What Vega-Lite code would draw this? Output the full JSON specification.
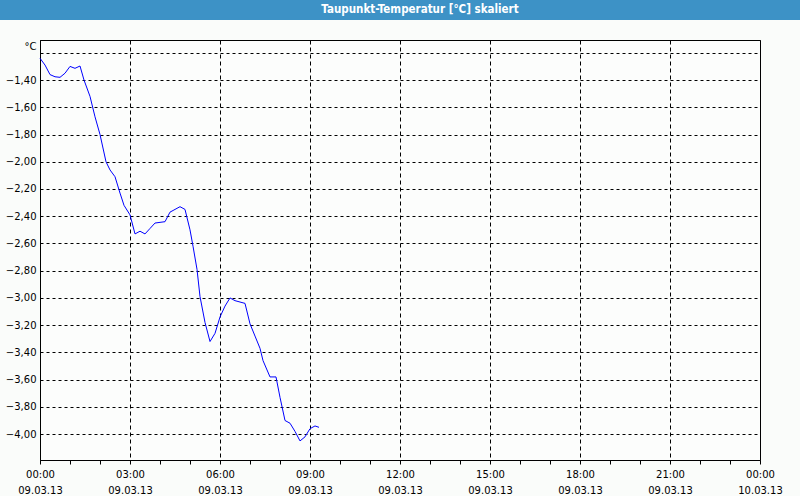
{
  "$schema": "https://vega.github.io/schema/vega-lite/v6.json",
  "background": "#FAFCFA",
  "padding": 0,
  "spacing": 20,
  "bounds": "flush",
  "center": true,
  "config": {
    "view": {"stroke": "#000000", "strokeWidth": 1, "fill": "#FCFDFC"},
    "font": "DejaVu Sans"
  },
  "vconcat": [
    {
      "width": 800,
      "height": 20,
      "view": {"stroke": null, "fill": "#3D92C6"},
      "data": {"values": [{"titel": "Taupunkt-Temperatur [°C] skaliert"}]},
      "mark": {"type": "text", "color": "#FFFFFF", "font": "DejaVu Sans Condensed", "fontWeight": "bold", "fontSize": 11.5, "baseline": "middle", "dx": 20},
      "encoding": {"text": {"field": "titel", "type": "nominal"}}
    },
    {
      "width": 720,
      "height": 420,
      "data": {
        "values": [
          {"zeit": "2013-03-09T00:00:00", "taupunkt": -1.24},
          {"zeit": "2013-03-09T00:10:00", "taupunkt": -1.29},
          {"zeit": "2013-03-09T00:20:00", "taupunkt": -1.36},
          {"zeit": "2013-03-09T00:30:00", "taupunkt": -1.376},
          {"zeit": "2013-03-09T00:40:00", "taupunkt": -1.38},
          {"zeit": "2013-03-09T00:50:00", "taupunkt": -1.35},
          {"zeit": "2013-03-09T01:00:00", "taupunkt": -1.30},
          {"zeit": "2013-03-09T01:10:00", "taupunkt": -1.314},
          {"zeit": "2013-03-09T01:20:00", "taupunkt": -1.297},
          {"zeit": "2013-03-09T01:28:00", "taupunkt": -1.40},
          {"zeit": "2013-03-09T01:40:00", "taupunkt": -1.52},
          {"zeit": "2013-03-09T01:50:00", "taupunkt": -1.67},
          {"zeit": "2013-03-09T02:00:00", "taupunkt": -1.80},
          {"zeit": "2013-03-09T02:12:00", "taupunkt": -2.00},
          {"zeit": "2013-03-09T02:20:00", "taupunkt": -2.06},
          {"zeit": "2013-03-09T02:30:00", "taupunkt": -2.11},
          {"zeit": "2013-03-09T02:40:00", "taupunkt": -2.23},
          {"zeit": "2013-03-09T02:48:00", "taupunkt": -2.32},
          {"zeit": "2013-03-09T03:00:00", "taupunkt": -2.39},
          {"zeit": "2013-03-09T03:10:00", "taupunkt": -2.53},
          {"zeit": "2013-03-09T03:20:00", "taupunkt": -2.51},
          {"zeit": "2013-03-09T03:30:00", "taupunkt": -2.53},
          {"zeit": "2013-03-09T03:40:00", "taupunkt": -2.49},
          {"zeit": "2013-03-09T03:50:00", "taupunkt": -2.45},
          {"zeit": "2013-03-09T04:10:00", "taupunkt": -2.44},
          {"zeit": "2013-03-09T04:20:00", "taupunkt": -2.37},
          {"zeit": "2013-03-09T04:30:00", "taupunkt": -2.35},
          {"zeit": "2013-03-09T04:40:00", "taupunkt": -2.33},
          {"zeit": "2013-03-09T04:50:00", "taupunkt": -2.35},
          {"zeit": "2013-03-09T05:00:00", "taupunkt": -2.50},
          {"zeit": "2013-03-09T05:06:00", "taupunkt": -2.62},
          {"zeit": "2013-03-09T05:14:00", "taupunkt": -2.79},
          {"zeit": "2013-03-09T05:20:00", "taupunkt": -2.99},
          {"zeit": "2013-03-09T05:30:00", "taupunkt": -3.18},
          {"zeit": "2013-03-09T05:40:00", "taupunkt": -3.32},
          {"zeit": "2013-03-09T05:50:00", "taupunkt": -3.26},
          {"zeit": "2013-03-09T06:00:00", "taupunkt": -3.14},
          {"zeit": "2013-03-09T06:10:00", "taupunkt": -3.06},
          {"zeit": "2013-03-09T06:20:00", "taupunkt": -3.00},
          {"zeit": "2013-03-09T06:30:00", "taupunkt": -3.02},
          {"zeit": "2013-03-09T06:50:00", "taupunkt": -3.04},
          {"zeit": "2013-03-09T07:00:00", "taupunkt": -3.19},
          {"zeit": "2013-03-09T07:10:00", "taupunkt": -3.28},
          {"zeit": "2013-03-09T07:20:00", "taupunkt": -3.37},
          {"zeit": "2013-03-09T07:26:00", "taupunkt": -3.46},
          {"zeit": "2013-03-09T07:40:00", "taupunkt": -3.58},
          {"zeit": "2013-03-09T07:52:00", "taupunkt": -3.58},
          {"zeit": "2013-03-09T08:00:00", "taupunkt": -3.73},
          {"zeit": "2013-03-09T08:10:00", "taupunkt": -3.90},
          {"zeit": "2013-03-09T08:20:00", "taupunkt": -3.92},
          {"zeit": "2013-03-09T08:30:00", "taupunkt": -3.98},
          {"zeit": "2013-03-09T08:40:00", "taupunkt": -4.05},
          {"zeit": "2013-03-09T08:50:00", "taupunkt": -4.02},
          {"zeit": "2013-03-09T09:00:00", "taupunkt": -3.96},
          {"zeit": "2013-03-09T09:10:00", "taupunkt": -3.94},
          {"zeit": "2013-03-09T09:18:00", "taupunkt": -3.95}
        ]
      },
      "mark": {"type": "line", "color": "#0000FF", "strokeWidth": 1},
      "encoding": {
        "x": {
          "field": "zeit",
          "type": "temporal",
          "scale": {
            "domain": [
              {"year": 2013, "month": 3, "date": 9, "hours": 0},
              {"year": 2013, "month": 3, "date": 10, "hours": 0}
            ]
          },
          "axis": {
            "title": null,
            "values": [
              {"year": 2013, "month": 3, "date": 9, "hours": 0},
              {"year": 2013, "month": 3, "date": 9, "hours": 1},
              {"year": 2013, "month": 3, "date": 9, "hours": 2},
              {"year": 2013, "month": 3, "date": 9, "hours": 3},
              {"year": 2013, "month": 3, "date": 9, "hours": 4},
              {"year": 2013, "month": 3, "date": 9, "hours": 5},
              {"year": 2013, "month": 3, "date": 9, "hours": 6},
              {"year": 2013, "month": 3, "date": 9, "hours": 7},
              {"year": 2013, "month": 3, "date": 9, "hours": 8},
              {"year": 2013, "month": 3, "date": 9, "hours": 9},
              {"year": 2013, "month": 3, "date": 9, "hours": 10},
              {"year": 2013, "month": 3, "date": 9, "hours": 11},
              {"year": 2013, "month": 3, "date": 9, "hours": 12},
              {"year": 2013, "month": 3, "date": 9, "hours": 13},
              {"year": 2013, "month": 3, "date": 9, "hours": 14},
              {"year": 2013, "month": 3, "date": 9, "hours": 15},
              {"year": 2013, "month": 3, "date": 9, "hours": 16},
              {"year": 2013, "month": 3, "date": 9, "hours": 17},
              {"year": 2013, "month": 3, "date": 9, "hours": 18},
              {"year": 2013, "month": 3, "date": 9, "hours": 19},
              {"year": 2013, "month": 3, "date": 9, "hours": 20},
              {"year": 2013, "month": 3, "date": 9, "hours": 21},
              {"year": 2013, "month": 3, "date": 9, "hours": 22},
              {"year": 2013, "month": 3, "date": 9, "hours": 23},
              {"year": 2013, "month": 3, "date": 10, "hours": 0}
            ],
            "labelExpr": "hours(datum.value) % 3 == 0 ? [timeFormat(datum.value, '%H:%M'), timeFormat(datum.value, '%d.%m.%y')] : ''",
            "labelFont": "DejaVu Sans",
            "labelFontSize": 10,
            "labelColor": "#000000",
            "labelLineHeight": 16,
            "labelPadding": 5,
            "labelAngle": 0,
            "labelOverlap": false,
            "labelFlush": false,
            "labelBound": false,
            "tickSize": 4,
            "tickColor": "#000000",
            "domainColor": "#000000",
            "grid": true,
            "gridColor": "#000000",
            "gridDash": [4, 3],
            "gridOpacity": {"condition": {"test": "hours(datum.value) % 3 == 0", "value": 1}, "value": 0}
          }
        },
        "y": {
          "field": "taupunkt",
          "type": "quantitative",
          "scale": {"domain": [-4.19, -1.106], "nice": false, "zero": false},
          "axis": {
            "values": [-1.2, -1.4, -1.6, -1.8, -2.0, -2.2, -2.4, -2.6, -2.8, -3.0, -3.2, -3.4, -3.6, -3.8, -4.0],
            "labelExpr": "datum.value > -1.3 ? '' : replace(format(datum.value, '.2f'), '.', ',')",
            "labelFont": "DejaVu Sans",
            "labelFontSize": 10,
            "labelColor": "#000000",
            "labelPadding": 4,
            "ticks": false,
            "domainColor": "#000000",
            "grid": true,
            "gridColor": "#000000",
            "gridDash": [3, 3],
            "title": "°C",
            "titleAngle": 0,
            "titleX": -4,
            "titleY": 6,
            "titleAlign": "right",
            "titleBaseline": "middle",
            "titleFont": "DejaVu Sans",
            "titleFontSize": 10,
            "titleFontWeight": "normal",
            "titleColor": "#000000"
          }
        }
      }
    }
  ]
}
